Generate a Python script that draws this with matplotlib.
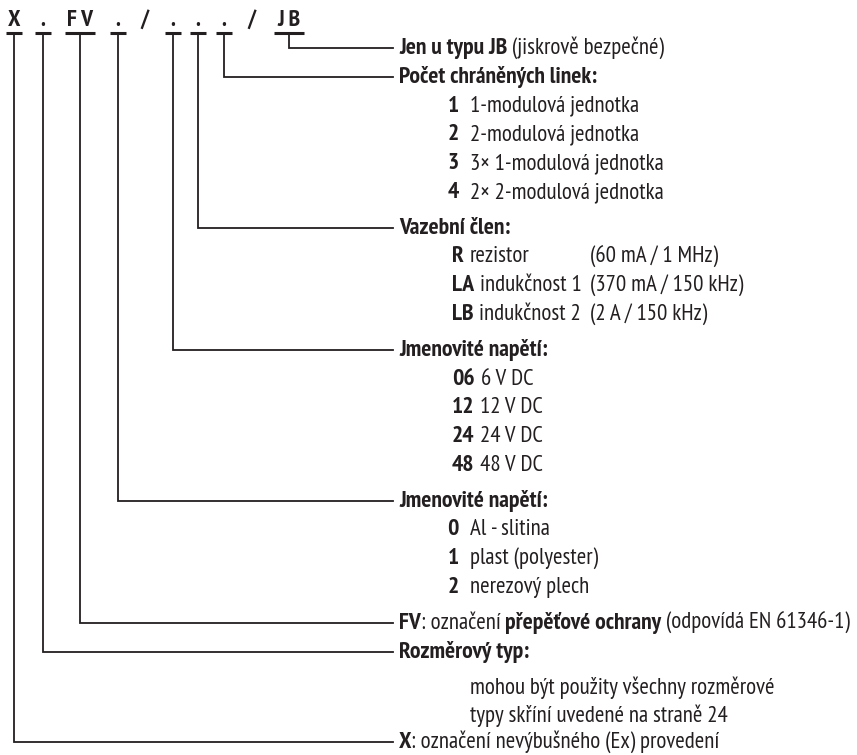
import matplotlib
matplotlib.use("Agg")
import matplotlib.pyplot as plt

# type code tokens on the top row
code_tokens = ["X", ".", "F V", ".", "/", ".", ".", ".", "/", "J B"]

# headings, top to bottom, as (text, weight) pieces
headings = [
    [("Jen u typu JB", "bold"), (" (jiskrově bezpečné)", "normal")],
    [("Počet chráněných linek:", "bold")],
    [("Vazební člen:", "bold")],
    [("Jmenovité napětí:", "bold")],
    [("Jmenovité napětí:", "bold")],
    [("FV", "bold"), (": označení ", "normal"), ("přepěťové ochrany", "bold"),
     (" (odpovídá EN 61346-1)", "normal")],
    [("Rozměrový typ:", "bold")],
    [("X", "bold"), (": označení nevýbušného (Ex) provedení", "normal")],
]
# which code token each heading hangs from
heading_token = [9, 7, 6, 5, 3, 2, 1, 0]

linky_codes = ["1", "2", "3", "4"]
linky_desc = ["1-modulová jednotka", "2-modulová jednotka",
              "3× 1-modulová jednotka", "2× 2-modulová jednotka"]
clen_codes = ["R", "LA", "LB"]
clen_desc = ["rezistor", "indukčnost 1", "indukčnost 2"]
clen_limits = ["(60 mA / 1 MHz)", "(370 mA / 150 kHz)", "(2 A / 150 kHz)"]
napeti_codes = ["06", "12", "24", "48"]
napeti_desc = ["6 V DC", "12 V DC", "24 V DC", "48 V DC"]
material_codes = ["0", "1", "2"]
material_desc = ["Al - slitina", "plast (polyester)", "nerezový plech"]
rozmer_desc = ["mohou být použity všechny rozměrové",
               "typy skříní uvedené na straně 24"]

# layout (pixels)
token_x = [14, 43, 80, 118, 145, 173, 198, 224, 252, 289]
INK = "#231f20"
W, H = 857, 755
head_base = 26
underline_y = 33
line_end = 393
text_x = 399
step = 28.7
gap = 36
FS = 16.5    # regular text
FSB = 17     # bold text

plt.rcParams["font.family"] = ["PT Sans Narrow", "Fira Sans Condensed", "DejaVu Sans"]
fig = plt.figure(figsize=(W / 100, H / 100), dpi=100)
ax = fig.add_axes([0, 0, 1, 1])
ax.set_xlim(0, W)
ax.set_ylim(H, 0)
ax.axis("off")
renderer = fig.canvas.get_renderer()
inv = ax.transData.inverted()


def put(x, y, txt, weight="normal", ha="left"):
    size = FSB if weight == "bold" else FS
    t = ax.text(x, y, txt, fontsize=size, fontweight=weight,
                va="baseline", ha=ha, color=INK)
    bb = t.get_window_extent(renderer=renderer)
    return inv.transform((bb.x1, bb.y0))[0]


def draw_pieces(x, y, pieces):
    for txt, weight in pieces:
        x = put(x, y, txt, weight)
    return x


# top code row
for tok, x in zip(code_tokens, token_x):
    ax.text(x, head_base, tok, fontsize=17, fontweight="bold",
            ha="center", va="baseline", color=INK)
    if tok != "/":
        half = 15 if len(tok) > 1 else 8
        ax.plot([x - half, x + half], [underline_y, underline_y],
                color=INK, lw=2.2, solid_capstyle="butt")

# item lists hanging below each heading
items = {
    1: [(c, d, None) for c, d in zip(linky_codes, linky_desc)],
    2: [(c, d, l) for c, d, l in zip(clen_codes, clen_desc, clen_limits)],
    3: [(c, d, None) for c, d in zip(napeti_codes, napeti_desc)],
    4: [(c, d, None) for c, d in zip(material_codes, material_desc)],
    6: [(None, d, None) for d in rozmer_desc],
}

y = 48
for i, pieces in enumerate(headings):
    tx = token_x[heading_token[i]]
    ax.plot([tx, tx, line_end], [underline_y, y, y], color=INK, lw=1.3,
            solid_joinstyle="miter")
    draw_pieces(text_x, y + 6, pieces)
    rows = items.get(i, [])
    if rows and i == 6:
        y += 7
    pending = []
    for code, desc, extra in rows:
        y += step
        if code is None:
            put(470, y + 6, desc)
            continue
        if len(code) == 1 and code.isdigit():
            put(459, y + 6, code, "bold", ha="right")
            put(470, y + 6, desc)
        else:
            end = put(452, y + 6, code, "bold")
            end = put(end + 6, y + 6, desc)
            if extra:
                pending.append((end, y + 6, extra))
    if pending:
        col = max(553, max(p[0] for p in pending) + 8)
        for _, yy, extra in pending:
            put(col, yy, extra)
    if i == 6:
        y += 26
    else:
        y += gap if rows else 29

fig.savefig("out.png", dpi=100)
